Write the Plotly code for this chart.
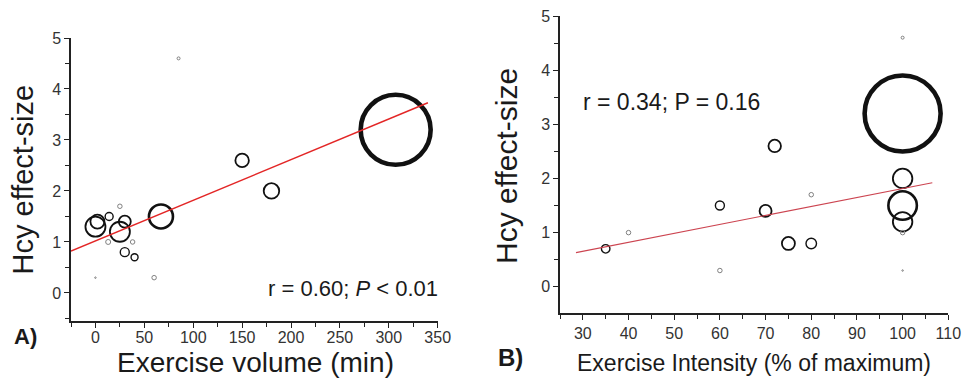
import plotly.graph_objects as go

# ---------------- data ----------------
# Panel A: exercise volume (min) vs Hcy effect size; weight = study weight (bubble diameter units)
vol_x = [0, 2, 14, 25, 13, 25, 30, 38, 30, 40, 0, 60, 85, 67, 150, 180, 307]
vol_y = [1.3, 1.4, 1.5, 1.7, 1.0, 1.2, 1.4, 1.0, 0.8, 0.7, 0.3, 0.3, 4.6, 1.5, 2.6, 2.0, 3.2]
vol_w = [20, 14, 8, 4.5, 5, 20, 12, 4.5, 9, 7, 1.5, 4.5, 3, 24, 13.5, 15.5, 70]
vol_fit_x = [-25, 340]
vol_fit_y = [0.82, 3.73]

# Panel B: exercise intensity (% of maximum) vs Hcy effect size
int_x = [35, 40, 60, 60, 70, 72, 75, 80, 80, 100, 100, 100, 100, 100, 100, 100]
int_y = [0.7, 1.0, 1.5, 0.3, 1.4, 2.6, 0.8, 0.8, 1.7, 4.6, 3.2, 2.0, 1.5, 1.2, 1.0, 0.3]
int_w = [8.5, 4.5, 9, 4.5, 12, 12.5, 13, 10.5, 4.5, 3, 76, 19.5, 28.5, 19.5, 4.5, 1.5]
int_fit_x = [28.5, 106.5]
int_fit_y = [0.63, 1.92]

y_ticks = [0, 1, 2, 3, 4, 5]
vol_ticks = [0, 50, 100, 150, 200, 250, 300, 350]
int_ticks = [30, 40, 50, 60, 70, 80, 90, 100, 110]

# ---------------- styling ----------------
W, H = 964, 380
FONT = "Arial, Liberation Sans, sans-serif"


def lw(d):
    if d >= 60:
        return 4.6
    if d >= 22:
        return 2.6
    if d >= 11:
        return 1.8
    if d >= 6:
        return 1.4
    return 1.0


def lc(d):
    return "#111111" if d >= 6 else "#808080"


def px(x):
    return x / W


def py(y):
    return 1 - y / H


fig = go.Figure()

for xs, ys, ws, xa, ya in [(vol_x, vol_y, vol_w, "x", "y"), (int_x, int_y, int_w, "x2", "y2")]:
    fig.add_trace(go.Scatter(
        x=xs, y=ys, mode="markers", xaxis=xa, yaxis=ya, showlegend=False,
        marker=dict(size=ws, sizemode="diameter", sizeref=1, color="rgba(0,0,0,0)", opacity=1,
                    line=dict(width=[lw(w) for w in ws], color=[lc(w) for w in ws])),
        cliponaxis=False,
    ))

fig.add_trace(go.Scatter(x=vol_fit_x, y=vol_fit_y, mode="lines", xaxis="x", yaxis="y",
                         line=dict(color="#e32626", width=1.5), showlegend=False))
fig.add_trace(go.Scatter(x=int_fit_x, y=int_fit_y, mode="lines", xaxis="x2", yaxis="y2",
                         line=dict(color="#cc4450", width=1.1), showlegend=False))

axis_common = dict(showline=True, linecolor="#222222", linewidth=1.5, showgrid=False,
                   zeroline=False, ticks="outside", ticklen=5, tickwidth=1.2, tickcolor="#222222",
                   automargin=False,
                   tickfont=dict(family=FONT, size=16, color="#333333"))

fig.update_layout(
    width=W, height=H, margin=dict(l=0, r=0, t=0, b=0, autoexpand=False),
    paper_bgcolor="white", plot_bgcolor="white",
    xaxis=dict(domain=[px(71), px(437.7)], range=[-25, 350], anchor="y", ticklabelstandoff=-4,
               tickvals=vol_ticks, minor=dict(ticks="outside", dtick=25, tick0=0, ticklen=4,
                                              tickcolor="#222222"), **axis_common),
    yaxis=dict(domain=[py(321), py(38)], range=[-0.55, 5.0], anchor="x",
               tickvals=y_ticks, minor=dict(ticks="outside", dtick=0.5, tick0=0, ticklen=4,
                                            tickcolor="#222222"), **axis_common),
    xaxis2=dict(domain=[px(560), px(948.3)], range=[25, 110], anchor="y2",
                tickvals=int_ticks, minor=dict(ticks="outside", dtick=5, tick0=0, ticklen=4,
                                               tickcolor="#222222"), **axis_common),
    yaxis2=dict(domain=[py(313.3), py(16)], range=[-0.49, 5.0], anchor="x2",
                tickvals=y_ticks, minor=dict(ticks="outside", dtick=0.5, tick0=0, ticklen=4,
                                             tickcolor="#222222"), **axis_common),
)

ann = [
    dict(text="Hcy effect-size", x=px(22.5), y=py(180), textangle=-90, size=29),
    dict(text="Exercise volume (min)", x=px(255), y=py(362), textangle=0, size=28),
    dict(text="r = 0.60; <i>P</i> &lt; 0.01", x=px(352.5), y=py(288), textangle=0, size=22),
    dict(text="<b>A)</b>", x=px(25), y=py(336), textangle=0, size=22),
    dict(text="Hcy effect-size", x=px(506), y=py(166), textangle=-90, size=30),
    dict(text="Exercise Intensity (% of maximum)", x=px(753.5), y=py(363), textangle=0, size=23),
    dict(text="r = 0.34; P = 0.16", x=px(671), y=py(102), textangle=0, size=23),
    dict(text="<b>B)</b>", x=px(510), y=py(357), textangle=0, size=24),
]
for a in ann:
    fig.add_annotation(text=a["text"], x=a["x"], y=a["y"], xref="paper", yref="paper",
                       xanchor="center", yanchor="middle", textangle=a["textangle"],
                       showarrow=False, font=dict(family=FONT, size=a["size"], color="#1a1a1a"))

fig.write_html("out.html", config={"displayModeBar": False},
               post_script="document.body.style.margin='0';document.body.style.overflow='hidden';")
